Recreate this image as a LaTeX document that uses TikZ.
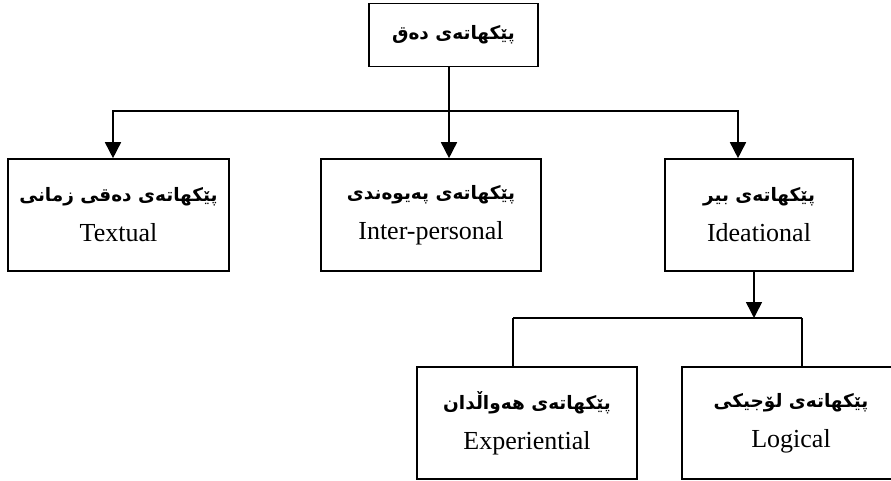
\documentclass[tikz,border=0pt]{standalone}
\usepackage{fontspec}
\setmainfont{Liberation Serif}
\newfontfamily\arabicfont[Script=Arabic]{DejaVu Sans}
\TeXXeTstate=1
\usetikzlibrary{arrows.meta}
\usetikzlibrary{positioning}

\tikzset{
  box/.style={draw, line width=1.6pt, minimum width=220pt, minimum height=112pt,
    inner sep=0pt, align=center, font=\fontsize{26}{40}\selectfont},
  link/.style={line width=1.6pt},
  arrow/.style={link, -{Triangle[width=16pt,length=16pt]}},
}
\newcommand{\kur}[1]{{\arabicfont\bfseries\fontsize{18.5}{24}\selectfont\beginR #1\endR}}

\begin{document}
\begin{tikzpicture}[x=1pt,y=-1pt]
    \useasboundingbox (0,0) rectangle (891,481);
    % boxes
    \node[box, minimum width=169pt, minimum height=63pt] (root) at (453.5,35) {\raisebox{-5pt}{\kur{پێکهاتەی دەق}}};
    \node[box, minimum width=221pt] (textual) at (118.5,215) {\kur{پێکهاتەی دەقی زمانی}\\Textual};
    \node[box] (inter) at (431,215) {\kur{پێکهاتەی پەیوەندی}\\Inter-personal};
    \node[box, minimum width=188pt] (ideational) at (759,215) {\kur{پێکهاتەی بیر}\\Ideational};
    \node[box] (experiential) at (527,423) {\kur{پێکهاتەی هەواڵدان}\\Experiential};
    \node[box, minimum width=218pt] (logical) at (791,423) {\kur{پێکهاتەی لۆجیکی}\\Logical};
    % junctions
    \coordinate (trunk) at (449,111);
    \coordinate (tj) at (113,111);
    \coordinate (ij) at (738,111);
    \coordinate (ib) at (754,318);
    \coordinate (el) at (513,318);
    \coordinate (lr) at (802,318);
    % connectors
    \draw[link] (root.south -| trunk) -- (trunk);
    \draw[arrow] (trunk) -- (trunk |- inter.north);
    \draw[arrow] (trunk) -- (tj) -- (tj |- textual.north);
    \draw[arrow] (trunk) -- (ij) -- (ij |- ideational.north);
    \draw[arrow] (ideational.south -| ib) -- (ib);
    \draw[link] (el) -- (lr);
    \draw[link] (el) -- (el |- experiential.north);
    \draw[link] (lr) -- (lr |- logical.north);
\end{tikzpicture}
\end{document}
